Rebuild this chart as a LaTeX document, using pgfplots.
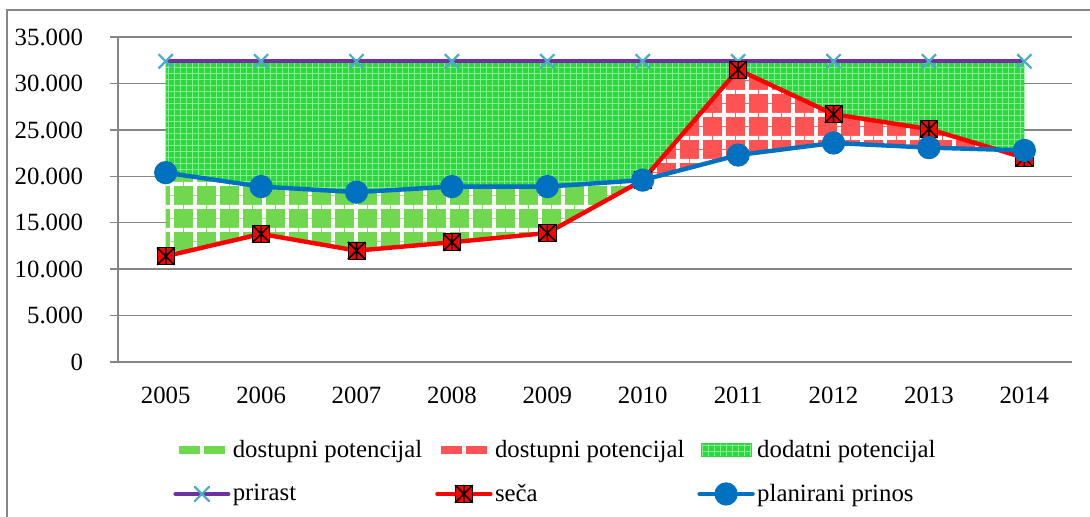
\documentclass[border=0pt]{standalone}
\usepackage{fontspec}
\setmainfont{Liberation Serif}
\usepackage{pgfplots}
\pgfplotsset{compat=1.18}
\usetikzlibrary{patterns,patterns.meta}

\definecolor{dgreen}{RGB}{112,216,78}
\definecolor{dred}{RGB}{255,82,82}
\definecolor{addgreen}{RGB}{40,218,62}
\definecolor{addgrid}{RGB}{130,238,140}
\definecolor{prirastc}{RGB}{112,48,160}
\definecolor{prirastm}{RGB}{75,172,198}
\definecolor{planc}{RGB}{0,112,192}
\definecolor{gridc}{RGB}{134,134,134}

\pgfdeclarepattern{
  name=biggrid, type=uncolored,
  bottom left={\pgfpoint{0pt}{0pt}}, top right={\pgfpoint{11.5pt}{11.5pt}},
  tile size={\pgfpoint{11.5pt}{11.5pt}},
  code={
    \pgfsetlinewidth{2pt}
    \pgfpathmoveto{\pgfpoint{0pt}{5.75pt}}\pgfpathlineto{\pgfpoint{11.5pt}{5.75pt}}
    \pgfpathmoveto{\pgfpoint{5.75pt}{0pt}}\pgfpathlineto{\pgfpoint{5.75pt}{11.5pt}}
    \pgfusepath{stroke}
  }}

\pgfdeclareplotmark{sqstar}{%
  \pgfpathrectangle{\pgfqpoint{-\pgfplotmarksize}{-\pgfplotmarksize}}{\pgfqpoint{2\pgfplotmarksize}{2\pgfplotmarksize}}%
  \pgfsetfillcolor{red}\pgfsetstrokecolor{black}\pgfsetlinewidth{0.4pt}%
  \pgfusepathqfillstroke
  \pgfsetlinewidth{0.8pt}%
  \pgfpathmoveto{\pgfqpoint{0pt}{-\pgfplotmarksize}}\pgfpathlineto{\pgfqpoint{0pt}{\pgfplotmarksize}}%
  \pgfpathmoveto{\pgfqpoint{-\pgfplotmarksize}{-\pgfplotmarksize}}\pgfpathlineto{\pgfqpoint{\pgfplotmarksize}{\pgfplotmarksize}}%
  \pgfpathmoveto{\pgfqpoint{-\pgfplotmarksize}{\pgfplotmarksize}}\pgfpathlineto{\pgfqpoint{\pgfplotmarksize}{-\pgfplotmarksize}}%
  \pgfusepathqstroke
}

\newcommand{\lt}[1]{\makebox[100pt][l]{#1}}

\begin{document}
\begin{tikzpicture}[font=\fontsize{12.4pt}{14pt}\selectfont]
\path[use as bounding box] (0,0) rectangle (545pt,258.5pt);
\draw[gridc, line width=0.7pt] (3.5pt,0) -- (3.5pt,253.5pt) -- (545pt,253.5pt);
\begin{axis}[
  at={(59pt,77.5pt)}, anchor=south west,
  scale only axis, width=477pt, height=162.4pt,
  xmin=-0.5, xmax=9.5, ymin=0, ymax=35000,
  axis x line*=bottom, axis y line*=left,
  axis line style={gridc, line width=0.7pt},
  ytick={0,5000,...,35000},
  ymajorgrids, grid style={gridc, line width=0.7pt},
  xtick={0,...,9},
  xticklabels={2005,2006,2007,2008,2009,2010,2011,2012,2013,2014},
  x tick style={draw=none},
  minor xtick={-0.5,0.5,...,9.5},
  minor x tick style={gridc, line width=0.7pt},
  y tick style={gridc, line width=0.7pt},
  tick align=outside,
  major tick length=4pt, minor tick length=4pt,
  scaled y ticks=false,
  /pgf/number format/1000 sep={.},
  /pgf/number format/assume math mode=true,
  ticklabel style={font=\fontsize{12.4pt}{14pt}\selectfont},
  yticklabel style={xshift=-10pt},
  xticklabel style={yshift=-5pt},
  legend image code/.code={\draw[mark repeat=2,mark phase=2,line cap=round,#1] plot coordinates {(0pt,0pt) (13.25pt,0pt) (26.5pt,0pt)};},
  legend columns=3,
  legend cell align=left,
  legend style={at={(0,0)}, anchor=north west, xshift=24.5pt, yshift=-35.5pt,
    draw=none, fill=none, font=\fontsize{12.4pt}{14pt}\selectfont,
    row sep=9.5pt, column sep=0pt, nodes={inner sep=1.2pt}},
]
% areas (polygons built from the series values)
\addplot[forget plot, draw=none, fill=dgreen, postaction={pattern=biggrid, pattern color=white}]
  coordinates {(0,20400)(1,18900)(2,18300)(3,18900)(4,18900)(5,19600)(4,13900)(3,12900)(2,12000)(1,13800)(0,11400)};
\addplot[forget plot, draw=none, fill=dgreen, postaction={pattern=biggrid, pattern color=white}]
  coordinates {(8.714,22886)(9,22800)(9,22000)};
\addplot[forget plot, draw=none, fill=dred, postaction={pattern=biggrid, pattern color=white}]
  coordinates {(5,19600)(6,31500)(7,26700)(8,25100)(8.714,22886)(8,23100)(7,23600)(6,22300)};
\addplot[forget plot, draw=none, fill=addgreen, postaction={pattern=grid, pattern color=addgrid}]
  coordinates {(0,32400)(9,32400)(9,22800)(8.714,22886)(8,25100)(7,26700)(6,31500)(5,19600)(4,18900)(3,18900)(2,18300)(1,18900)(0,20400)};

\addlegendimage{legend image code/.code={\fill[dgreen] (2pt,-1.8pt) rectangle (12pt,1.8pt); \fill[dgreen] (14.5pt,-1.8pt) rectangle (24.5pt,1.8pt);}}
\addlegendentry{\lt{dostupni potencijal}}
\addlegendimage{legend image code/.code={\fill[dred] (2pt,-1.8pt) rectangle (12pt,1.8pt); \fill[dred] (14.5pt,-1.8pt) rectangle (24.5pt,1.8pt);}}
\addlegendentry{\lt{dostupni potencijal}}
\addlegendimage{legend image code/.code={\fill[addgreen, postaction={pattern=grid, pattern color=addgrid}] (1pt,-3.2pt) rectangle (26pt,3.2pt);}}
\addlegendentry{\lt{dodatni potencijal}}

% lines
\addplot[prirastc, line width=2pt, mark=x, mark size=5pt, mark options={prirastm, line width=1.1pt}]
  coordinates {(0,32400)(1,32400)(2,32400)(3,32400)(4,32400)(5,32400)(6,32400)(7,32400)(8,32400)(9,32400)};
\addlegendentry{\lt{prirast}}
\addplot[red, line width=2.2pt, mark=sqstar, mark size=4.3pt]
  coordinates {(0,11400)(1,13800)(2,12000)(3,12900)(4,13900)(5,19600)(6,31500)(7,26700)(8,25100)(9,22000)};
\addlegendentry{\lt{seča}}
\addplot[planc, line width=2.2pt, mark=*, mark size=4.7pt, mark options={fill=planc, draw=planc}]
  coordinates {(0,20400)(1,18900)(2,18300)(3,18900)(4,18900)(5,19600)(6,22300)(7,23600)(8,23100)(9,22800)};
\addlegendentry{\lt{planirani prinos}}
\end{axis}
\end{tikzpicture}
\end{document}
